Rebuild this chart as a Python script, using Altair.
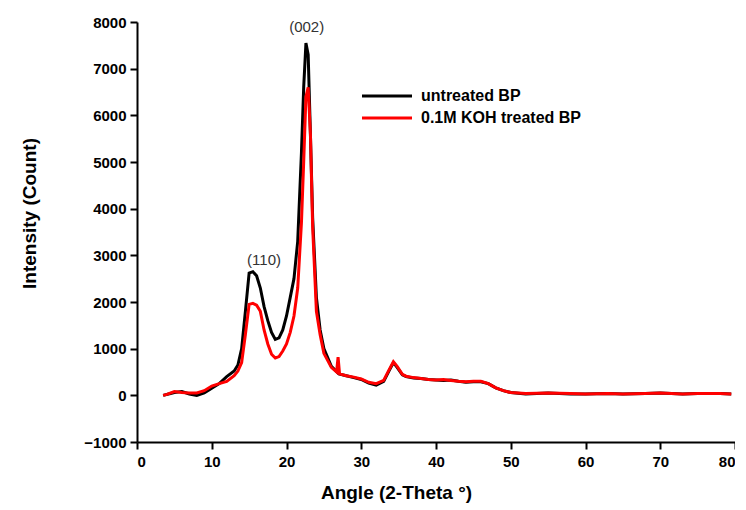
import altair as alt
import pandas as pd

series_names = ["untreated BP", "0.1M KOH treated BP"]
series_colors = ["#000000", "#ff0000"]

angle_untreated = [3.5, 4.5, 5, 6, 7, 8, 9, 10, 11, 12, 13, 13.5, 14, 14.5, 15, 15.5, 16, 16.5, 17, 17.5, 18, 18.5, 19, 19.5, 20, 20.5, 21, 21.5, 22, 22.3, 22.6, 22.9, 23.2, 23.5, 24, 24.5, 25, 26, 27, 28, 29, 30, 31, 32, 33, 33.7, 34.3, 34.8, 35.5, 36, 37, 38, 39, 40, 41, 42, 43, 44, 45, 46, 47, 48, 49, 50, 52, 55, 58, 60, 63, 65, 68, 70, 73, 75, 78, 79.5]
intensity_untreated = [0, 40, 60, 80, 30, 0, 50, 150, 250, 400, 520, 650, 1000, 1800, 2620, 2650, 2560, 2300, 1900, 1600, 1350, 1200, 1230, 1400, 1700, 2100, 2500, 3300, 5200, 6600, 7550, 7300, 5600, 3800, 2100, 1400, 1000, 620, 460, 420, 380, 340, 260, 220, 300, 520, 700, 600, 440, 400, 370, 360, 340, 330, 320, 330, 300, 280, 290, 290, 250, 160, 100, 60, 30, 50, 30, 30, 40, 30, 40, 50, 30, 40, 40, 30]

angle_treated = [3.5, 4, 5, 6, 7, 8, 9, 10, 11, 12, 13, 13.5, 14, 14.5, 15, 15.5, 16, 16.5, 17, 17.5, 18, 18.5, 19, 19.5, 20, 20.5, 21, 21.5, 22, 22.3, 22.6, 22.9, 23.2, 23.5, 24, 24.5, 25, 26, 26.7, 26.9, 27.1, 28, 29, 30, 31, 32, 33, 33.7, 34.3, 34.8, 35.5, 36, 37, 38, 39, 40, 41, 42, 43, 44, 45, 46, 47, 48, 49, 50, 52, 55, 58, 60, 63, 65, 68, 70, 73, 75, 78, 79.5]
intensity_treated = [0, 20, 80, 60, 50, 50, 100, 200, 250, 300, 420, 520, 700, 1300, 1950, 1970, 1930, 1800, 1400, 1100, 880, 800, 830, 950, 1100, 1350, 1700, 2300, 3700, 5000, 6400, 6600, 5600, 3600, 1800, 1300, 900, 600, 500, 820, 460, 420, 390, 350, 280, 250, 320, 540, 720, 620, 450, 410, 380, 360, 340, 330, 340, 320, 300, 290, 300, 300, 250, 160, 100, 60, 40, 50, 40, 30, 40, 30, 40, 50, 30, 40, 40, 30]

peak_labels = ["(110)", "(002)"]
peak_angles = [17.0, 22.7]
peak_heights = [2900, 7900]

x_ticks = [0, 10, 20, 30, 40, 50, 60, 70, 80]
y_ticks = [-1000, 0, 1000, 2000, 3000, 4000, 5000, 6000, 7000, 8000]

rows = []
for a, v in zip(angle_untreated, intensity_untreated):
    rows.append({"angle": a, "intensity": v, "series": series_names[0], "order": 0})
for a, v in zip(angle_treated, intensity_treated):
    rows.append({"angle": a, "intensity": v, "series": series_names[1], "order": 1})
df = pd.DataFrame(rows)

labels_df = pd.DataFrame({"label": peak_labels, "angle": peak_angles, "intensity": peak_heights})

FONT = "Liberation Sans"

x_enc = alt.X("angle:Q", scale=alt.Scale(domain=[0, 80], nice=False),
              axis=alt.Axis(values=x_ticks, format="d", title="Angle (2-Theta °)", grid=False,
                            titleX=259, titleAlign="center"))
y_enc = alt.Y("intensity:Q", scale=alt.Scale(domain=[-1000, 8000], nice=False),
              axis=alt.Axis(values=y_ticks, format="d", title="Intensity (Count)", grid=False,
                            titleY=191, titleAlign="center"))

lines = alt.Chart(df).mark_line(strokeWidth=3, clip=True).encode(
    x=x_enc,
    y=y_enc,
    color=alt.Color("series:N", scale=alt.Scale(domain=series_names, range=series_colors),
                    legend=alt.Legend(title=None, orient="none", legendX=242, legendY=66,
                                      symbolType="M-5,0H5", symbolSize=100, symbolStrokeWidth=3,
                                      labelFont=FONT, labelFontSize=16, labelFontWeight="bold",
                                      labelColor="#000", rowPadding=6, labelOffset=26,
                                      labelLimit=400)),
    detail="series:N",
    order=alt.Order("order:Q"),
)

texts = alt.Chart(labels_df).mark_text(font=FONT, fontSize=15, color="#333", baseline="middle").encode(
    x="angle:Q", y="intensity:Q", text="label:N"
)

chart = alt.layer(lines, texts).properties(
    width=598, height=420,
    autosize=alt.AutoSizeParams(type="none"),
    padding={"left": 129, "top": 14, "right": 0, "bottom": 66},
).configure_view(stroke=None).configure_axis(
    domainColor="#000", domainWidth=2, tickColor="#000", tickWidth=2, tickSize=7,
    labelFont=FONT, labelFontSize=15, labelFontWeight="bold", labelColor="#000",
    titleFont=FONT, titleFontSize=19, titleFontWeight="bold", titleColor="#000",
).configure_axisX(labelPadding=5, titlePadding=14).configure_axisY(labelPadding=4, titlePadding=44)

chart.save("out.html", embed_options={"renderer": "svg", "actions": False})
